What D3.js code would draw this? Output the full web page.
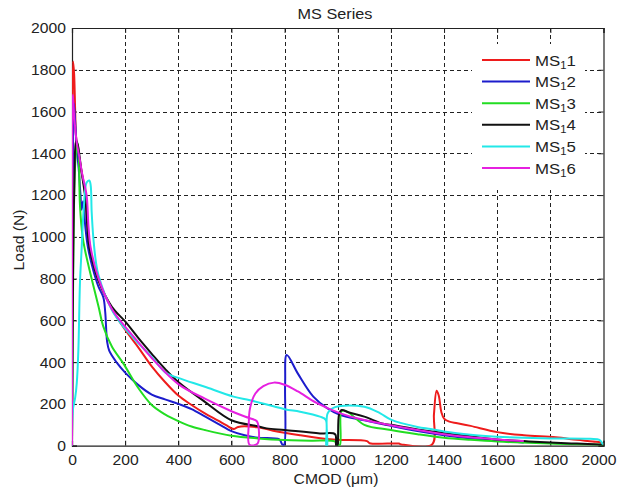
<!DOCTYPE html>
<html>
<head>
<meta charset="utf-8">
<script src="https://cdn.jsdelivr.net/npm/d3@7/dist/d3.min.js"></script>
<style>
  body { margin: 0; background: #fff; }
  svg { display: block; font-family: "Liberation Sans", Arial, Helvetica, sans-serif; }
</style>
</head>
<body>
<svg id="chart" width="617" height="492"></svg>
<script>
// CMOD (µm) vs load (N) curves for the six MS specimens
const ms1 = [[0,0],[2,1500],[4,1840],[8,1780],[12,1600],[16,1470],[25,1400],[35,1320],[45,1250],[55,1120],[62,1000],[75,900],[100,790],[150,655],[200,555],[250,470],[300,380],[350,305],[400,240],[450,195],[500,155],[550,120],[580,98],[610,80],[625,90],[700,88],[757,72],[858,50],[950,33],[1000,28],[1110,22],[1120,12],[1230,10],[1240,6],[1355,6],[1362,150],[1372,263],[1380,240],[1390,160],[1400,130],[1420,115],[1450,108],[1500,95],[1600,65],[1700,50],[1820,40],[1900,28],[1960,20],[1990,15],[2000,5]];
const ms2 = [[0,0],[3,1300],[7,1640],[12,1550],[18,1420],[25,1330],[32,1200],[36,1130],[42,1170],[50,1050],[60,950],[80,840],[100,760],[118,710],[125,640],[132,500],[140,455],[170,395],[200,350],[250,290],[300,245],[350,222],[400,200],[450,175],[500,140],[550,105],[600,70],[650,50],[700,38],[780,30],[792,5],[798,5],[802,300],[808,434],[850,345],[908,235],[960,180],[1010,147],[1100,122],[1200,95],[1300,70],[1400,50],[1500,35],[1600,25],[1700,15]];
const ms3 = [[0,0],[5,900],[12,1350],[20,1450],[25,1400],[30,1150],[40,1000],[50,930],[70,820],[100,665],[118,570],[150,475],[193,394],[250,275],[300,195],[350,150],[400,118],[450,92],[500,75],[600,48],[700,35],[800,27],[900,24],[990,20],[1000,3],[1008,3],[1012,160],[1020,168],[1040,160],[1100,100],[1200,75],[1300,55],[1400,38],[1500,28],[1600,20],[1800,10],[2000,5]];
const ms4 = [[0,0],[8,1200],[16,1460],[22,1440],[28,1390],[35,1320],[42,1260],[50,1190],[56,1080],[62,980],[70,920],[100,790],[150,665],[200,595],[250,515],[300,440],[350,368],[400,305],[500,210],[600,122],[700,93],[733,83],[800,75],[933,59],[990,55],[994,0],[998,0],[1005,150],[1015,171],[1040,160],[1100,139],[1171,105],[1200,100],[1300,78],[1360,67],[1400,60],[1500,45],[1600,30],[1700,22],[1800,15],[1900,10],[2000,5]];
const ms5 = [[0,0],[3,170],[12,230],[18,300],[24,460],[30,780],[36,936],[45,1150],[55,1260],[65,1270],[70,1250],[74,1120],[80,1000],[90,880],[100,815],[150,650],[200,560],[250,490],[300,425],[356,346],[400,325],[457,300],[500,282],[608,235],[670,218],[800,175],[858,163],[933,139],[955,123],[957,0],[960,0],[962,155],[990,185],[1100,187],[1160,155],[1200,125],[1300,90],[1350,80],[1400,68],[1500,52],[1600,43],[1700,38],[1800,35],[1950,33],[1985,28],[1998,5]];
const ms6 = [[0,0],[1,1500],[3,1680],[6,1620],[10,1550],[18,1450],[28,1380],[40,1290],[55,1200],[62,1050],[70,950],[100,800],[150,655],[200,570],[250,495],[300,420],[400,295],[500,225],[600,165],[650,140],[690,122],[698,112],[698,10],[668,5],[665,100],[670,180],[690,250],[720,285],[760,302],[800,292],[850,260],[920,205],[1010,155],[1100,123],[1200,98],[1300,75],[1400,55],[1500,40],[1600,30],[1700,22]];

const seriesData = [ms1, ms2, ms3, ms4, ms5, ms6];
const seriesNames = ["1", "2", "3", "4", "5", "6"];
const seriesColors = ["#ee1c1c", "#1c1ccc", "#22dd22", "#111111", "#22e8e8", "#e620e0"];

const xTicks = [0, 200, 400, 600, 800, 1000, 1200, 1400, 1600, 1800, 2000];
const yTicks = [0, 200, 400, 600, 800, 1000, 1200, 1400, 1600, 1800, 2000];

const chartTitle = "MS Series";
const xTitle = "CMOD (\u03bcm)";
const yTitle = "Load (N)";

// Layout
const plot = { left: 72, top: 28, right: 603.5, bottom: 445.7 };
const textStretch = 1.12;
const fontSize = 14;
const pageWidth = 617;

const svg = d3.select("#chart");
const x = d3.scaleLinear().domain([0, 2000]).range([plot.left, plot.right]);
const y = d3.scaleLinear().domain([0, 2000]).range([plot.bottom, plot.top]);

// Dotted grid
const grid = svg.append("g").attr("stroke", "#222").attr("stroke-width", 1).attr("stroke-dasharray", "4,3");
grid.selectAll(".gx").data(xTicks.slice(1, -1)).join("line")
  .attr("x1", d => Math.round(x(d)) + 0.5).attr("x2", d => Math.round(x(d)) + 0.5)
  .attr("y1", plot.top).attr("y2", plot.bottom);
grid.selectAll(".gy").data(yTicks.slice(1, -1)).join("line")
  .attr("x1", plot.left).attr("x2", plot.right)
  .attr("y1", d => Math.round(y(d)) + 0.5).attr("y2", d => Math.round(y(d)) + 0.5);

// Axes with inward ticks
const xAxis = svg.append("g").attr("transform", `translate(0,${plot.bottom})`)
  .call(d3.axisBottom(x).tickValues(xTicks).tickSize(-5).tickPadding(0).tickFormat(d3.format("d")));
const yAxis = svg.append("g").attr("transform", `translate(${plot.left},0)`)
  .call(d3.axisLeft(y).tickValues(yTicks).tickSize(-5).tickPadding(0).tickFormat(d3.format("d")));
svg.append("g").attr("transform", `translate(0,${plot.top})`)
  .call(d3.axisTop(x).tickValues(xTicks).tickSize(-5).tickFormat(""));
svg.append("g").attr("transform", `translate(${plot.right},0)`)
  .call(d3.axisRight(y).tickValues(yTicks).tickSize(-5).tickFormat(""));

svg.selectAll(".domain").attr("stroke", "#222").attr("stroke-width", 1.2);
svg.selectAll(".tick line").attr("stroke", "#222");

xAxis.selectAll("text")
  .attr("y", 0).attr("dy", null)
  .attr("font-size", fontSize).attr("fill", "#222")
  .attr("font-family", "Liberation Sans, Arial, sans-serif")
  .attr("transform", `translate(0,19.3) scale(${textStretch},1)`);
// keep the last x label inside the page edge
xAxis.selectAll("text").each(function (d) {
  const w = this.getComputedTextLength() * textStretch;
  const cx = x(d);
  if (cx + w / 2 > pageWidth - 1) {
    const shift = pageWidth - 1 - (cx + w / 2);
    d3.select(this).attr("transform", `translate(${shift},19.3) scale(${textStretch},1)`);
  }
});
yAxis.selectAll("text")
  .attr("x", 0).attr("dy", "0.35em")
  .attr("font-size", fontSize).attr("fill", "#222")
  .attr("font-family", "Liberation Sans, Arial, sans-serif")
  .attr("transform", `translate(-6,0) scale(${textStretch},1)`);

// Titles
svg.append("text").text(chartTitle)
  .attr("text-anchor", "middle").attr("font-size", 14.5).attr("fill", "#222")
  .attr("transform", `translate(335,18.5) scale(${textStretch},1)`);
svg.append("text").text(xTitle)
  .attr("text-anchor", "middle").attr("font-size", fontSize).attr("fill", "#222")
  .attr("transform", `translate(336,484) scale(${textStretch},1)`);
svg.append("text").text(yTitle)
  .attr("text-anchor", "middle").attr("font-size", fontSize).attr("fill", "#222")
  .attr("transform", `translate(24,240) rotate(-90) scale(${textStretch},1)`);

// Curves, clipped to the axes box
svg.append("clipPath").attr("id", "plot-clip").append("rect")
  .attr("x", plot.left).attr("y", plot.top)
  .attr("width", plot.right - plot.left).attr("height", plot.bottom - plot.top);

const line = d3.line().x(d => x(d[0])).y(d => y(d[1])).curve(d3.curveCatmullRom.alpha(0.5));
svg.append("g").attr("clip-path", "url(#plot-clip)")
  .selectAll("path").data(seriesData).join("path")
  .attr("d", line)
  .attr("fill", "none")
  .attr("stroke", (d, i) => seriesColors[i])
  .attr("stroke-width", 2)
  .attr("stroke-linejoin", "round");

// Legend
const legend = svg.append("g");
legend.append("rect").attr("x", 472).attr("y", 44).attr("width", 113).attr("height", 146).attr("fill", "#fff");
const rowH = 21.6;
const items = legend.selectAll(".item").data(seriesNames).join("g")
  .attr("transform", (d, i) => `translate(0,${60 + i * rowH})`);
items.append("line").attr("x1", 482).attr("x2", 530).attr("y1", 0).attr("y2", 0)
  .attr("stroke", (d, i) => seriesColors[i]).attr("stroke-width", 2);
const lt = items.append("text").attr("fill", "#222").attr("font-size", 15)
  .attr("transform", `translate(535,5.5) scale(${textStretch},1)`);
lt.append("tspan").text("MS");
lt.append("tspan").attr("font-size", 10).attr("dy", 3).text("1");
lt.append("tspan").attr("dy", -3).text(d => d);
</script>
</body>
</html>
